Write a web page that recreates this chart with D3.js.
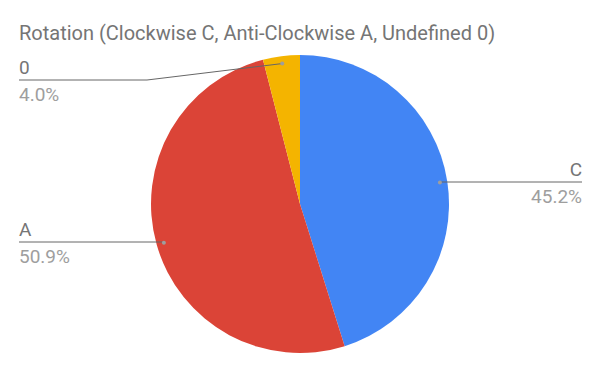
<!DOCTYPE html>
<html>
<head>
<meta charset="utf-8">
<script src="https://cdn.jsdelivr.net/npm/d3@7"></script>
<style>
	body { margin: 0; background: #fff; }
	text { font-family: Roboto, sans-serif; }
</style>
</head>
<body>
<div id="chart"></div>
<script>
const categories = ["C", "A", "0"];
const values = [45.2, 50.9, 4.0];
const colors = ["#4285f4", "#db4437", "#f4b400"];

const width = 600, height = 371;
const cx = 300, cy = 204, radius = 149;

const svg = d3.select("#chart")
		.append("svg")
		.attr("width", width)
		.attr("height", height);

svg.append("text")
	.attr("x", 19)
	.attr("y", 40)
	.attr("font-size", 20)
	.attr("fill", "#757575")
	.text("Rotation (Clockwise C, Anti-Clockwise A, Undefined 0)");

const data = categories.map((c, i) => ({ name: c, value: values[i], color: colors[i] }));

const pie = d3.pie().sort(null).value(d => d.value);
const arcs = pie(data);
const arc = d3.arc().innerRadius(0).outerRadius(radius);

const g = svg.append("g").attr("transform", `translate(${cx},${cy})`);

g.selectAll("path")
	.data(arcs)
	.join("path")
	.attr("d", arc)
	.attr("fill", d => d.data.color);

// label layout: side, line y, elbow x
const labelLayout = {
	"C": { side: "right", lineY: 182, elbowX: null },
	"A": { side: "left", lineY: 242, elbowX: null },
	"0": { side: "left", lineY: 80, elbowX: 147 }
};

const fmt = d3.format(".1f");

arcs.forEach(a => {
	const mid = (a.startAngle + a.endAngle) / 2;
	const r = radius * 0.95;
	const px = cx + r * Math.sin(mid);
	const py = cy - r * Math.cos(mid);
	const lay = labelLayout[a.data.name];
	const endX = lay.side === "right" ? 582 : 19;

	let pts = [[px, py]];
	if (lay.elbowX !== null) pts.push([lay.elbowX, lay.lineY]);
	else pts.push([px, lay.lineY]);
	pts.push([endX, lay.lineY]);

	svg.append("path")
		.attr("d", d3.line()(pts))
		.attr("fill", "none")
		.attr("stroke", "#666")
		.attr("stroke-width", 1);

	svg.append("circle")
		.attr("cx", px)
		.attr("cy", py)
		.attr("r", 2)
		.attr("fill", "#9e9e9e");

	const anchor = lay.side === "right" ? "end" : "start";

	svg.append("text")
		.attr("x", endX)
		.attr("y", lay.lineY - 6)
		.attr("text-anchor", anchor)
		.attr("font-size", 19)
		.attr("fill", "#757575")
		.text(a.data.name);

	svg.append("text")
		.attr("x", endX)
		.attr("y", lay.lineY + 21)
		.attr("text-anchor", anchor)
		.attr("font-size", 19)
		.attr("fill", "#9e9e9e")
		.text(fmt(a.data.value) + "%");
});
</script>
</body>
</html>
